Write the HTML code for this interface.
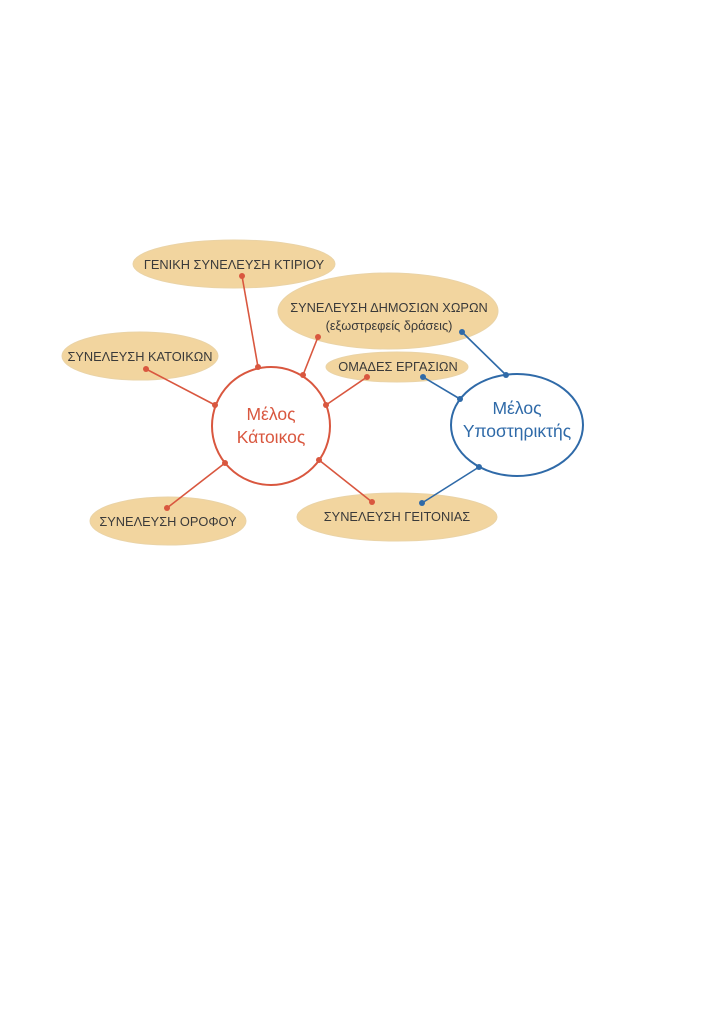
<!DOCTYPE html>
<html><head><meta charset="utf-8"><style>body{margin:0;background:#fff}svg{display:block}</style></head><body>
<svg width="724" height="1024" viewBox="0 0 724 1024" xmlns="http://www.w3.org/2000/svg" font-family="Liberation Sans, DejaVu Sans, sans-serif">
<g fill="#f2d59f" stroke="#ead3a6" stroke-width="1">
<ellipse cx="234" cy="264" rx="101" ry="24"/>
<ellipse cx="388" cy="311" rx="110" ry="38"/>
<ellipse cx="140" cy="356" rx="78" ry="24"/>
<ellipse cx="397" cy="367" rx="71" ry="15"/>
<ellipse cx="168" cy="521" rx="78" ry="24"/>
<ellipse cx="397" cy="517" rx="100" ry="24"/>
</g>
<g fill="#3a3a3a" font-size="12.8" text-anchor="middle">
<text x="234" y="269">ΓΕΝΙΚΗ ΣΥΝΕΛΕΥΣΗ ΚΤΙΡΙΟΥ</text>
<text x="389" y="312">ΣΥΝΕΛΕΥΣΗ ΔΗΜΟΣΙΩΝ ΧΩΡΩΝ</text>
<text x="389" y="330">(εξωστρεφείς δράσεις)</text>
<text x="140" y="361">ΣΥΝΕΛΕΥΣΗ ΚΑΤΟΙΚΩΝ</text>
<text x="398" y="371">ΟΜΑΔΕΣ ΕΡΓΑΣΙΩΝ</text>
<text x="168" y="526">ΣΥΝΕΛΕΥΣΗ ΟΡΟΦΟΥ</text>
<text x="397" y="521">ΣΥΝΕΛΕΥΣΗ ΓΕΙΤΟΝΙΑΣ</text>
</g>
<circle cx="271" cy="426" r="59" fill="#fff" stroke="#d9573f" stroke-width="2"/>
<ellipse cx="517" cy="425" rx="66" ry="51" fill="#fff" stroke="#2f6aa8" stroke-width="2"/>
<g stroke="#d9573f" stroke-width="1.6" fill="none">
<line x1="242" y1="276" x2="258" y2="367"/>
<line x1="318" y1="337" x2="303" y2="375"/>
<line x1="146" y1="369" x2="215" y2="405"/>
<line x1="367" y1="377" x2="326" y2="405"/>
<line x1="225" y1="463" x2="167" y2="508"/>
<line x1="319" y1="460" x2="372" y2="502"/>
</g>
<g fill="#d9573f">
<circle cx="242" cy="276" r="3"/><circle cx="258" cy="367" r="3"/>
<circle cx="318" cy="337" r="3"/><circle cx="303" cy="375" r="3"/>
<circle cx="146" cy="369" r="3"/><circle cx="215" cy="405" r="3"/>
<circle cx="367" cy="377" r="3"/><circle cx="326" cy="405" r="3"/>
<circle cx="225" cy="463" r="3"/><circle cx="167" cy="508" r="3"/>
<circle cx="319" cy="460" r="3"/><circle cx="372" cy="502" r="3"/>
</g>
<g stroke="#2f6aa8" stroke-width="1.6" fill="none">
<line x1="462" y1="332" x2="506" y2="375"/>
<line x1="423" y1="377" x2="460" y2="399"/>
<line x1="479" y1="467" x2="422" y2="503"/>
</g>
<g fill="#2f6aa8">
<circle cx="462" cy="332" r="3"/><circle cx="506" cy="375" r="3"/>
<circle cx="423" cy="377" r="3"/><circle cx="460" cy="399" r="3"/>
<circle cx="479" cy="467" r="3"/><circle cx="422" cy="503" r="3"/>
</g>
<g font-size="17.5" text-anchor="middle">
<text x="271" y="420" fill="#d9573f">Μέλος</text>
<text x="271" y="443" fill="#d9573f">Κάτοικος</text>
<text x="517" y="414" fill="#2f6aa8">Μέλος</text>
<text x="517" y="437" fill="#2f6aa8">Υποστηρικτής</text>
</g>
</svg>
</body></html>
